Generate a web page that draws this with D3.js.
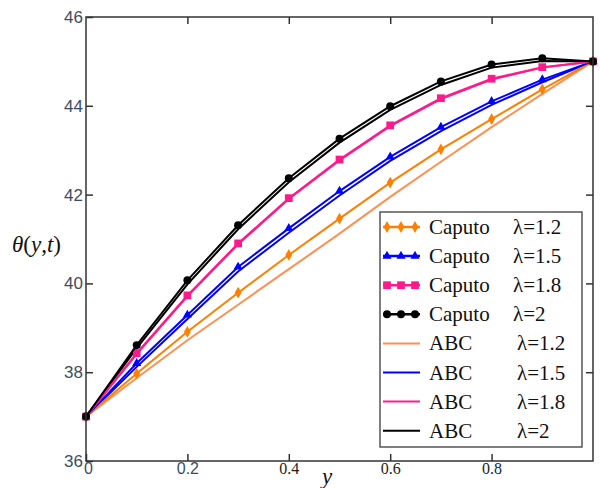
<!DOCTYPE html>
<html>
<head>
<meta charset="utf-8">
<script src="https://cdn.jsdelivr.net/npm/d3@7"></script>
<style>
  body { margin: 0; background: #fff; }
  svg { display: block; }
</style>
</head>
<body>
<svg width="600" height="488"></svg>
<script>
// 数据：横坐标与各曲线取值
const xValues = [0, 0.1, 0.2, 0.3, 0.4, 0.5, 0.6, 0.7, 0.8, 0.9, 1];
const caputo12 = [37, 37.97, 38.91, 39.79, 40.64, 41.46, 42.27, 43.02, 43.70, 44.37, 45];
const caputo15 = [37, 38.20, 39.29, 40.37, 41.24, 42.08, 42.85, 43.52, 44.10, 44.59, 45];
const caputo18 = [37, 38.43, 39.73, 40.90, 41.92, 42.79, 43.56, 44.17, 44.61, 44.87, 45];
const caputo2  = [37, 38.61, 40.07, 41.31, 42.37, 43.26, 43.99, 44.55, 44.93, 45.07, 45];
const abc12 = [37, 37.87, 38.72, 39.52, 40.32, 41.12, 41.95, 42.74, 43.52, 44.27, 45];
const abc15 = [37, 38.12, 39.20, 40.27, 41.14, 41.98, 42.76, 43.43, 44.02, 44.53, 45];
const abc18 = [37, 38.41, 39.71, 40.88, 41.90, 42.77, 43.54, 44.15, 44.59, 44.86, 45];
const abc2  = [37, 38.54, 39.98, 41.22, 42.28, 43.17, 43.91, 44.47, 44.86, 45.01, 45];
const xTicks = [0, 0.2, 0.4, 0.6, 0.8];
const yTicks = [36, 38, 40, 42, 44, 46];
const legendNames = ["Caputo", "Caputo", "Caputo", "Caputo", "ABC", "ABC", "ABC", "ABC"];
const legendLambdas = ["λ=1.2", "λ=1.5", "λ=1.8", "λ=2", "λ=1.2", "λ=1.5", "λ=1.8", "λ=2"];

const svg = d3.select("svg");
const plotLeft = 86, plotRight = 593, plotTop = 17, plotBottom = 461;

const x = d3.scaleLinear().domain([0, 1]).range([plotLeft, plotRight]);
const y = d3.scaleLinear().domain([36, 46]).range([plotBottom, plotTop]);

// 系列定义
const series = [
  { vals: abc12, color: "#ff9050", marker: null },
  { vals: abc15, color: "#0000ff", marker: null },
  { vals: abc2,  color: "#000000", marker: null },
  { vals: caputo12, color: "#ff8000", marker: d3.symbolDiamond, size: 40 },
  { vals: caputo15, color: "#0000ff", marker: d3.symbolTriangle, size: 36 },
  { vals: abc18, color: "#ff1a8c", marker: null },
  { vals: caputo18, color: "#ff1a8c", marker: d3.symbolSquare, size: 60 },
  { vals: caputo2,  color: "#000000", marker: d3.symbolCircle, size: 50 }
];

const line = d3.line().x((d, i) => x(xValues[i])).y(d => y(d));

series.forEach(s => {
  svg.append("path")
    .attr("d", line(s.vals))
    .attr("fill", "none")
    .attr("stroke", s.color)
    .attr("stroke-width", 2);
  if (s.marker) {
    svg.selectAll(null)
      .data(s.vals)
      .enter()
      .append("path")
      .attr("d", d3.symbol().type(s.marker).size(s.size))
      .attr("transform", (d, i) => `translate(${x(xValues[i])},${y(d)})`)
      .attr("fill", s.color);
  }
});

// 坐标轴（刻度向内，四边镜像）
const axisColor = "#333";
svg.append("g")
  .attr("transform", `translate(0,${plotBottom})`)
  .call(d3.axisBottom(x).tickValues(xTicks).tickSizeInner(-7).tickSizeOuter(0).tickFormat(d3.format("")))
  .call(g => g.select(".domain").remove())
  .call(g => g.selectAll("line").attr("stroke", axisColor).attr("stroke-width", 1.5))
  .call(g => g.selectAll("text")
    .attr("dy", "0.2em")
    .attr("y", 10)
    .attr("fill", d => d < 0.3 ? "#3d4c66" : "#222")
    .style("font-family", d => d < 0.3 ? "Liberation Sans, sans-serif" : "Liberation Serif, serif")
    .style("font-size", "16px")
    .attr("dx", d => d === 0 ? 2 : 0));

svg.append("g")
  .attr("transform", `translate(0,${plotTop})`)
  .call(d3.axisTop(x).tickValues(xTicks.slice(1)).tickSizeInner(-7).tickSizeOuter(0).tickFormat(""))
  .call(g => g.select(".domain").remove())
  .call(g => g.selectAll("line").attr("stroke", axisColor).attr("stroke-width", 1.5));

svg.append("g")
  .attr("transform", `translate(${plotLeft},0)`)
  .call(d3.axisLeft(y).tickValues(yTicks).tickSizeInner(-7).tickSizeOuter(0))
  .call(g => g.select(".domain").remove())
  .call(g => g.selectAll("line").attr("stroke", axisColor).attr("stroke-width", 1.5))
  .call(g => g.selectAll("text")
    .attr("x", -3)
    .attr("fill", "#3d4c66")
    .style("font-family", "Liberation Sans, sans-serif")
    .style("font-size", "17px"));

svg.append("g")
  .attr("transform", `translate(${plotRight},0)`)
  .call(d3.axisRight(y).tickValues(yTicks.slice(1, -1)).tickSizeInner(-7).tickSizeOuter(0).tickFormat(""))
  .call(g => g.select(".domain").remove())
  .call(g => g.selectAll("line").attr("stroke", axisColor).attr("stroke-width", 1.5));

// 外框
svg.append("rect")
  .attr("x", plotLeft).attr("y", plotTop)
  .attr("width", plotRight - plotLeft).attr("height", plotBottom - plotTop)
  .attr("fill", "none")
  .attr("stroke", axisColor)
  .attr("stroke-width", 1.5);

// 轴标题
svg.append("text")
  .attr("x", 12).attr("y", 252)
  .style("font-family", "Liberation Serif, serif")
  .style("font-size", "23px")
  .attr("fill", "#111")
  .html('<tspan font-style="italic">θ</tspan>(<tspan font-style="italic">y</tspan>,<tspan font-style="italic">t</tspan>)');

svg.append("text")
  .attr("x", 322).attr("y", 484)
  .style("font-family", "Liberation Serif, serif")
  .style("font-size", "23px")
  .style("font-style", "italic")
  .attr("fill", "#111")
  .text("y");

// 图例
const legend = svg.append("g");
legend.append("rect")
  .attr("x", 380).attr("y", 212)
  .attr("width", 202).attr("height", 235)
  .attr("fill", "#fff")
  .attr("stroke", "#555")
  .attr("stroke-width", 1.5);

const legendSeries = [
  { color: "#ff8000", marker: d3.symbolDiamond, size: 40 },
  { color: "#0000ff", marker: d3.symbolTriangle, size: 36 },
  { color: "#ff1a8c", marker: d3.symbolSquare, size: 60 },
  { color: "#000000", marker: d3.symbolCircle, size: 50 },
  { color: "#ff9050", marker: null },
  { color: "#0000ff", marker: null },
  { color: "#ff1a8c", marker: null },
  { color: "#000000", marker: null }
];

legendSeries.forEach((s, i) => {
  const cy = 227 + i * 29.1;
  const row = legend.append("g").attr("transform", `translate(0,${cy})`);
  row.append("line")
    .attr("x1", 383).attr("x2", 420)
    .attr("stroke", s.color)
    .attr("stroke-width", s.marker ? 2.5 : 2);
  if (s.marker) {
    [387, 401, 415].forEach(mx => {
      row.append("path")
        .attr("d", d3.symbol().type(s.marker).size(s.size))
        .attr("transform", `translate(${mx},0)`)
        .attr("fill", s.color);
    });
  }
  row.append("text")
    .attr("x", 429).attr("y", 7)
    .style("font-family", "Liberation Serif, serif")
    .style("font-size", "21px")
    .attr("fill", "#111")
    .text(legendNames[i]);
  row.append("text")
    .attr("x", s.marker ? 513 : 517).attr("y", 7)
    .style("font-family", "Liberation Serif, serif")
    .style("font-size", "21px")
    .attr("fill", "#111")
    .text(legendLambdas[i]);
});
</script>
</body>
</html>
